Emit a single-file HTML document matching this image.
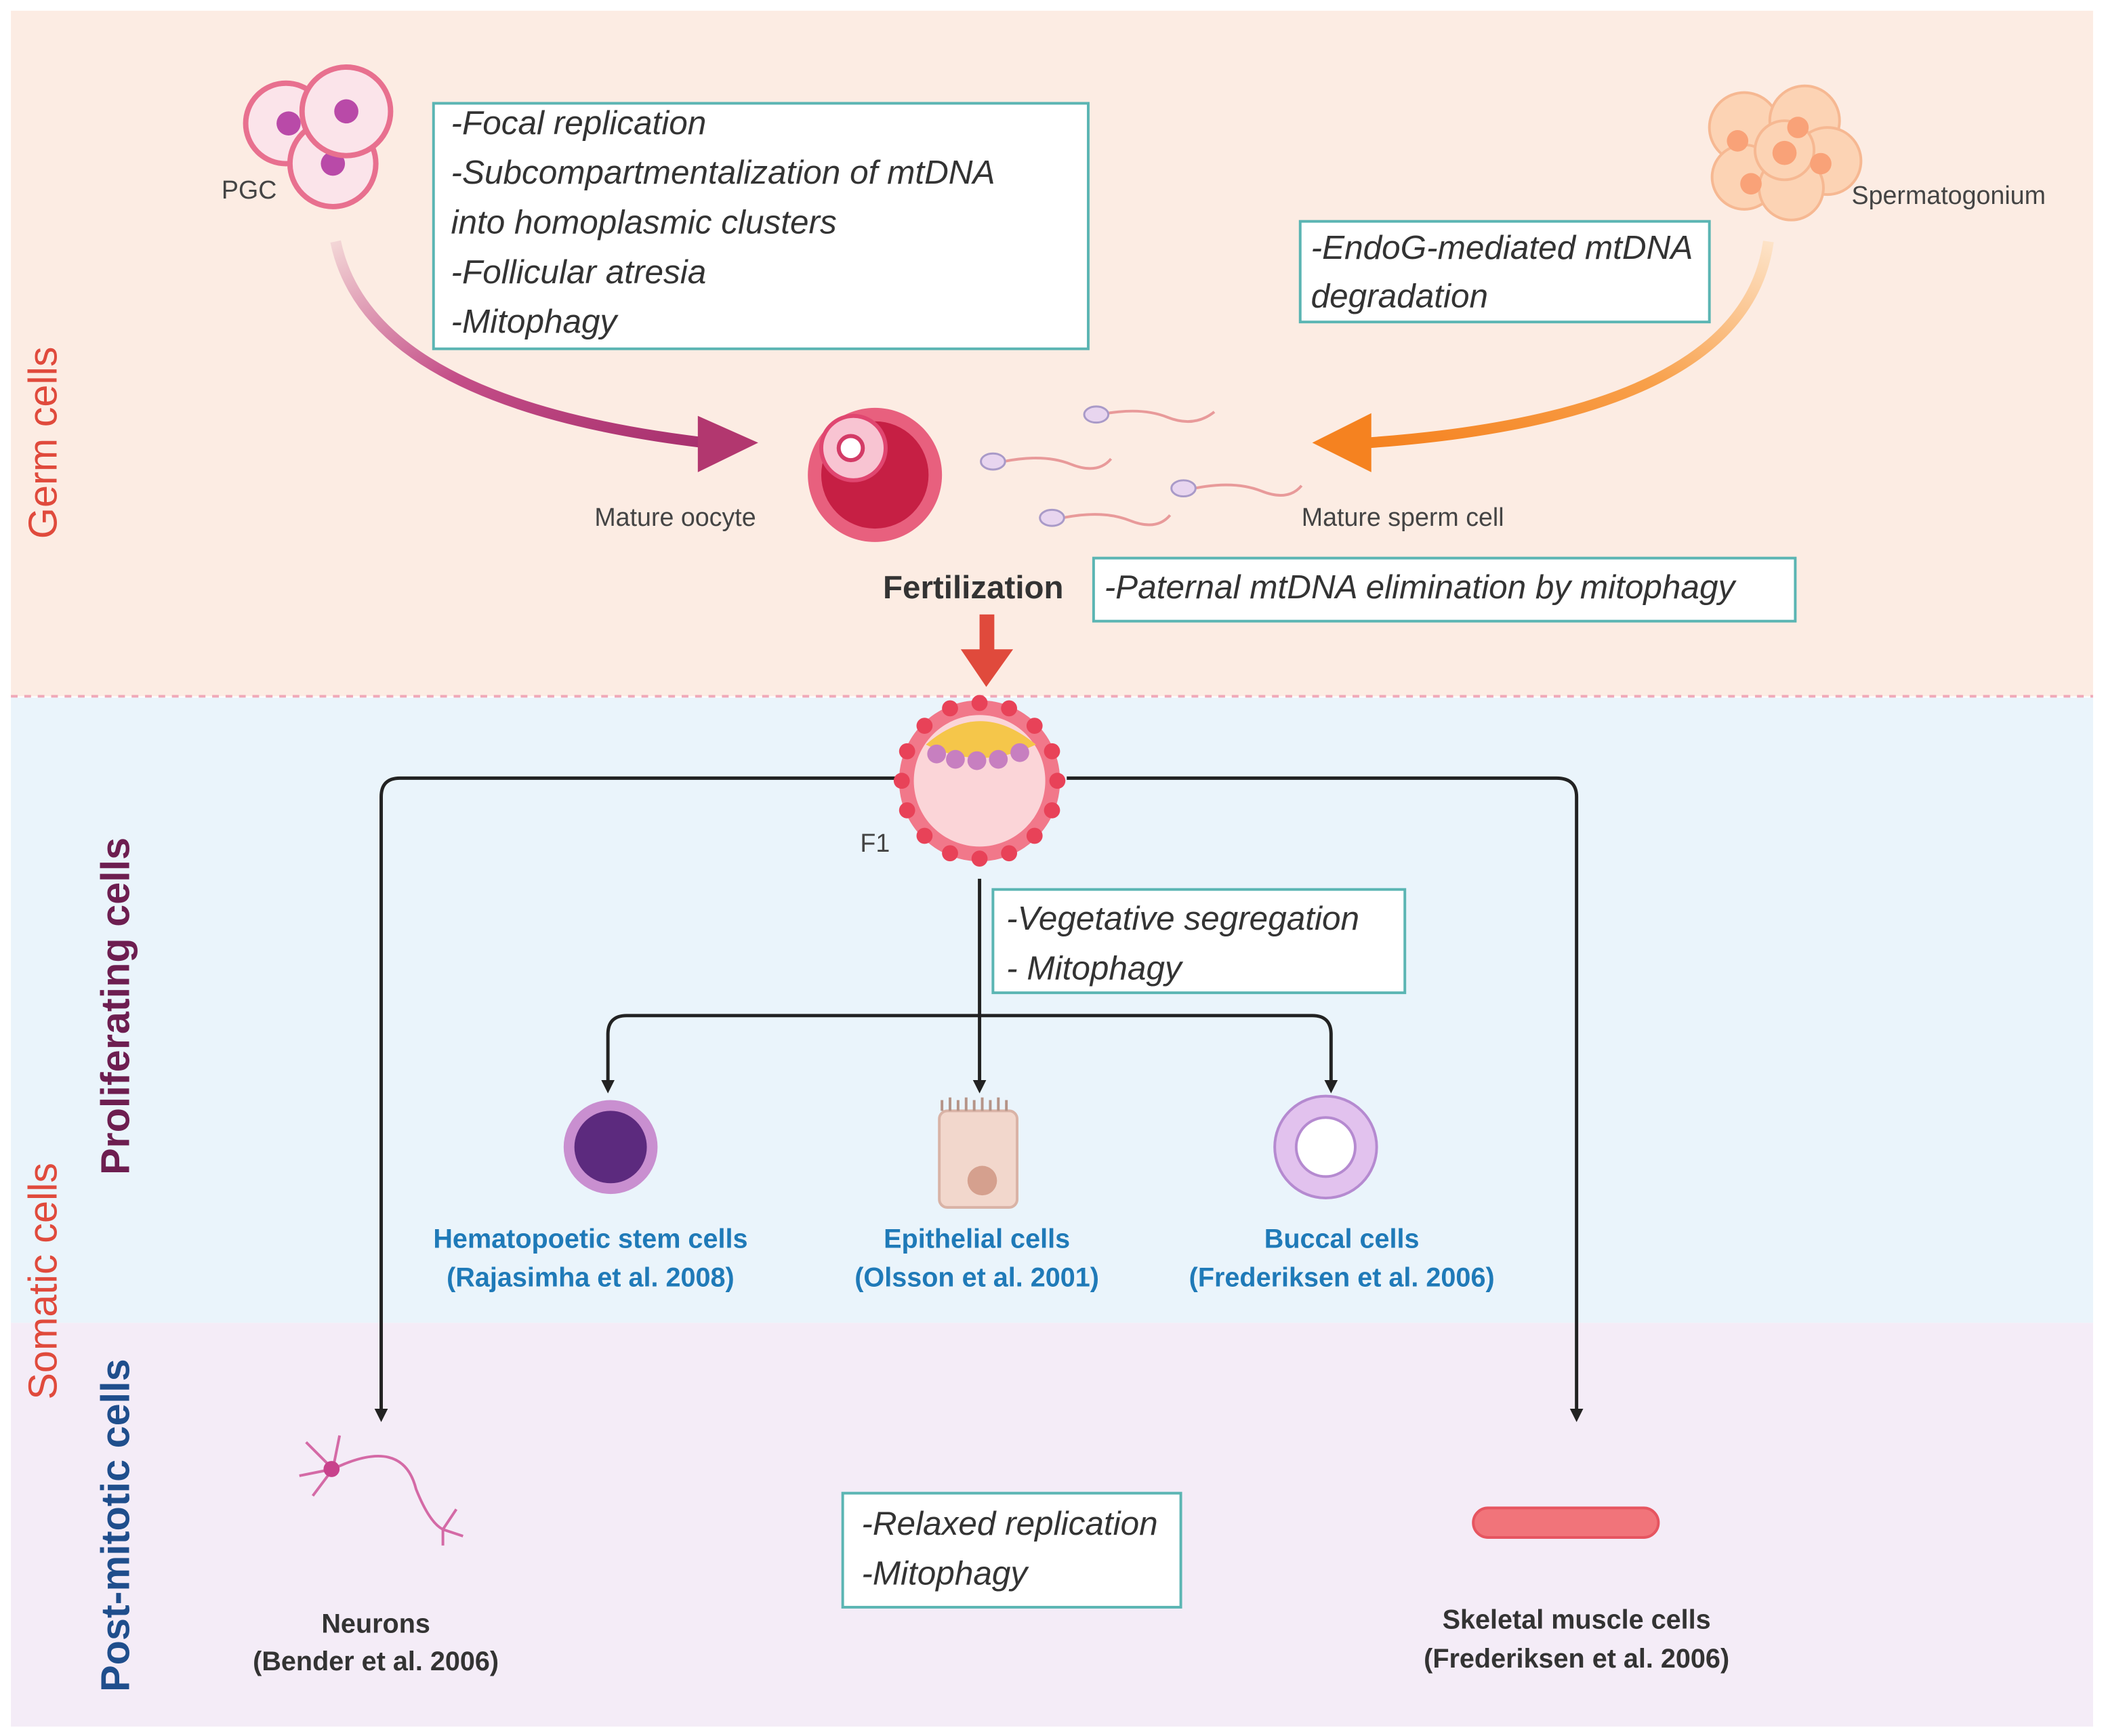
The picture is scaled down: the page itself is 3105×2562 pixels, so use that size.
<!DOCTYPE html>
<html><head><meta charset="utf-8"><style>
html,body{margin:0;padding:0;background:#fff}
svg{display:block}
text{font-family:"Liberation Sans","DejaVu Sans",sans-serif}
.it{font-style:italic;font-size:25px;fill:#333}
.lb{font-size:19px;fill:#444}
.bl{font-size:20px;fill:#1f7ab8;font-weight:bold}
.bk{font-size:20px;fill:#333;font-weight:bold}
</style></head><body>
<svg width="3105" height="2562" viewBox="0 0 1568 1294" xmlns="http://www.w3.org/2000/svg">
<defs>
<linearGradient id="gp" x1="0" y1="0" x2="1" y2="1"><stop offset="0" stop-color="#f3d6d6"/><stop offset="0.5" stop-color="#c44e88"/><stop offset="1" stop-color="#a8306e"/></linearGradient>
<linearGradient id="go" x1="1" y1="0" x2="0" y2="1"><stop offset="0" stop-color="#fde3c8"/><stop offset="0.5" stop-color="#f8a04a"/><stop offset="1" stop-color="#f58220"/></linearGradient>
<marker id="ah" markerWidth="10" markerHeight="10" refX="5" refY="5" orient="auto" markerUnits="userSpaceOnUse"><path d="M0,0 L10,5 L0,10 z" fill="#222"/></marker>
</defs>
<rect x="0" y="0" width="1568" height="1294" fill="#fff"/>
<rect x="8" y="8" width="1552" height="511" fill="#fcece3"/>
<rect x="8" y="520" width="1552" height="466" fill="#eaf4fb"/>
<rect x="8" y="986" width="1552" height="301" fill="#f4ecf7"/>
<line x1="8" y1="519" x2="1560" y2="519" stroke="#f0a8b8" stroke-width="2" stroke-dasharray="5,5"/>

<text transform="translate(42,330) rotate(-90)" text-anchor="middle" font-size="30" fill="#e04a3c">Germ cells</text>
<text transform="translate(96,750) rotate(-90)" text-anchor="middle" font-size="30" fill="#6d1e50" font-weight="bold">Proliferating cells</text>
<text transform="translate(42,955) rotate(-90)" text-anchor="middle" font-size="30" fill="#e04a3c">Somatic  cells</text>
<text transform="translate(96,1137) rotate(-90)" text-anchor="middle" font-size="30" fill="#1f4e8c" font-weight="bold">Post-mitotic cells</text>

<!-- PGC -->
<circle cx="213" cy="92" r="30" fill="#fbe4ea" stroke="#e8708f" stroke-width="4"/><circle cx="215" cy="92" r="9" fill="#b94aa8"/>
<circle cx="248" cy="122" r="32" fill="#fbe4ea" stroke="#e8708f" stroke-width="4"/><circle cx="248" cy="122" r="9" fill="#b94aa8"/>
<circle cx="258" cy="83" r="33" fill="#fbe4ea" stroke="#e8708f" stroke-width="4"/><circle cx="258" cy="83" r="9" fill="#b94aa8"/>
<text x="165" y="148" class="lb">PGC</text>
<!-- Spermatogonium -->
<g fill="#fcd3b4" stroke="#f6b892" stroke-width="2">
<circle cx="1300" cy="95" r="26"/><circle cx="1345" cy="90" r="26"/><circle cx="1362" cy="120" r="25"/><circle cx="1300" cy="132" r="24"/><circle cx="1335" cy="140" r="24"/><circle cx="1330" cy="112" r="22"/></g>
<g fill="#f9a278"><circle cx="1295" cy="105" r="8"/><circle cx="1340" cy="95" r="8"/><circle cx="1357" cy="122" r="8"/><circle cx="1305" cy="137" r="8"/><circle cx="1330" cy="114" r="9"/></g>
<text x="1380" y="152" class="lb">Spermatogonium</text>

<!-- curved arrows -->
<path d="M250,180 Q275,300 525,330" fill="none" stroke="url(#gp)" stroke-width="8"/>
<path d="M520,310 L565,330 L520,352 z" fill="#b2376f"/>
<path d="M1318,180 Q1300,310 1020,330" fill="none" stroke="url(#go)" stroke-width="8"/>
<path d="M1022,308 L978,330 L1022,352 z" fill="#f58220"/>

<!-- oocyte -->
<circle cx="652" cy="354" r="50" fill="#e8607e"/>
<circle cx="652" cy="354" r="40" fill="#c61f44"/>
<circle cx="636" cy="334" r="24" fill="#f8c4d2" stroke="#e04670" stroke-width="3"/>
<circle cx="634" cy="334" r="9" fill="#fff" stroke="#d33b66" stroke-width="3"/>
<text x="443" y="392" class="lb">Mature oocyte</text>
<!-- sperm -->
<g stroke="#e89a9a" stroke-width="2" fill="none">
<path d="M820,309 q30,-6 50,2 t35,-4"/><path d="M748,344 q30,-6 50,2 t30,-4"/><path d="M890,364 q30,-6 50,2 t30,-4"/><path d="M792,386 q30,-6 50,2 t30,-4"/></g>
<g fill="#e8d5ef" stroke="#a99ac8" stroke-width="1.5">
<ellipse cx="817" cy="309" rx="9" ry="6"/><ellipse cx="740" cy="344" rx="9" ry="6"/><ellipse cx="882" cy="364" rx="9" ry="6"/><ellipse cx="784" cy="386" rx="9" ry="6"/></g>
<text x="970" y="392" class="lb">Mature sperm cell</text>

<text x="658" y="446" font-size="24" font-weight="bold" fill="#333">Fertilization</text>
<rect x="730" y="458" width="11" height="30" fill="#e04a3c"/>
<path d="M716,484 L755,484 L735,512 z" fill="#e04a3c"/>

<!-- boxes -->
<g fill="#fff" stroke="#5bb5b3" stroke-width="2">
<rect x="323" y="77" width="488" height="183"/>
<rect x="969" y="165" width="305" height="75"/>
<rect x="815" y="416" width="523" height="47"/>
<rect x="740" y="663" width="307" height="77"/>
<rect x="628" y="1113" width="252" height="85"/>
</g>
<text class="it"><tspan x="336" y="100">-Focal replication</tspan><tspan x="336" y="137">-Subcompartmentalization of mtDNA</tspan><tspan x="336" y="174">into  homoplasmic clusters</tspan><tspan x="336" y="211">-Follicular atresia</tspan><tspan x="336" y="248">-Mitophagy</tspan></text>
<text class="it"><tspan x="977" y="193">-EndoG-mediated mtDNA</tspan><tspan x="977" y="229">degradation</tspan></text>
<text class="it" x="823" y="446">-Paternal mtDNA elimination by mitophagy</text>
<text class="it"><tspan x="750" y="693">-Vegetative segregation</tspan><tspan x="750" y="730">- Mitophagy</tspan></text>
<text class="it"><tspan x="642" y="1144">-Relaxed replication</tspan><tspan x="642" y="1181">-Mitophagy</tspan></text>

<!-- connectors -->
<g fill="none" stroke="#222" stroke-width="2.5">
<path d="M668,580 L298,580 Q284,580 284,594 L284,1055" marker-end="url(#ah)"/>
<path d="M795,580 L1160,580 Q1175,580 1175,594 L1175,1055" marker-end="url(#ah)"/>
<path d="M730,655 L730,810" marker-end="url(#ah)"/>
<path d="M730,757 L467,757 Q453,757 453,771 L453,810" marker-end="url(#ah)"/>
<path d="M730,757 L978,757 Q992,757 992,771 L992,810" marker-end="url(#ah)"/>
</g>

<!-- F1 blastocyst -->
<circle cx="730" cy="582" r="60" fill="#f1788a"/>
<circle cx="730" cy="582" r="49" fill="#fbd5d8"/>
<g fill="#e84258">
<circle cx="730" cy="524" r="6"/><circle cx="730" cy="640" r="6"/><circle cx="672" cy="582" r="6"/><circle cx="788" cy="582" r="6"/>
<circle cx="771" cy="541" r="6"/><circle cx="689" cy="541" r="6"/><circle cx="771" cy="623" r="6"/><circle cx="689" cy="623" r="6"/>
<circle cx="752" cy="528" r="6"/><circle cx="708" cy="528" r="6"/><circle cx="752" cy="636" r="6"/><circle cx="708" cy="636" r="6"/>
<circle cx="784" cy="560" r="6"/><circle cx="676" cy="560" r="6"/><circle cx="784" cy="604" r="6"/><circle cx="676" cy="604" r="6"/></g>
<path d="M690,555 Q730,520 772,555 Q730,575 690,555z" fill="#f5c64a"/>
<g fill="#c77fc0"><circle cx="698" cy="562" r="7"/><circle cx="712" cy="566" r="7"/><circle cx="728" cy="567" r="7"/><circle cx="744" cy="566" r="7"/><circle cx="760" cy="561" r="7"/></g>
<text x="641" y="635" class="lb">F1</text>

<!-- proliferating cells -->
<circle cx="455" cy="855" r="35" fill="#c98fd0"/><circle cx="455" cy="855" r="27" fill="#5c2a7e"/>
<rect x="700" y="828" width="58" height="72" rx="6" fill="#f2d7cc" stroke="#d9b3a6" stroke-width="2"/>
<path d="M702,828 l0,-8 m6,8 l0,-10 m6,10 l0,-8 m6,8 l0,-10 m6,10 l0,-8 m6,8 l0,-10 m6,10 l0,-8 m6,8 l0,-10 m6,10 l0,-8" stroke="#b59488" stroke-width="2"/>
<circle cx="732" cy="880" r="11" fill="#d5a08e"/>
<circle cx="988" cy="855" r="38" fill="#e2c2ee" stroke="#b58ad0" stroke-width="2"/>
<circle cx="988" cy="855" r="22" fill="#fff" stroke="#b58ad0" stroke-width="2"/>
<text text-anchor="middle" class="bl"><tspan x="440" y="930">Hematopoetic stem cells</tspan><tspan x="440" y="959">(Rajasimha et al. 2008)</tspan></text>
<text text-anchor="middle" class="bl"><tspan x="728" y="930">Epithelial cells</tspan><tspan x="728" y="959">(Olsson et al. 2001)</tspan></text>
<text text-anchor="middle" class="bl"><tspan x="1000" y="930">Buccal cells</tspan><tspan x="1000" y="959">(Frederiksen et al. 2006)</tspan></text>

<!-- neuron -->
<g stroke="#d46aa6" stroke-width="2" fill="none">
<path d="M248,1095 Q300,1070 310,1110 Q320,1135 330,1140"/>
<path d="M248,1095 l-20,-20 M248,1095 l-25,5 M248,1095 l-15,20 M248,1095 l5,-25 M330,1140 l10,-15 M330,1140 l15,5 M330,1140 l0,12"/></g>
<circle cx="247" cy="1095" r="6" fill="#c8428c"/>
<!-- muscle -->
<rect x="1098" y="1124" width="138" height="22" rx="11" fill="#f1747a" stroke="#e65560" stroke-width="2"/>
<text text-anchor="middle" class="bk"><tspan x="280" y="1217">Neurons</tspan><tspan x="280" y="1245">(Bender et al. 2006)</tspan></text>
<text text-anchor="middle" class="bk"><tspan x="1175" y="1214">Skeletal muscle cells</tspan><tspan x="1175" y="1243">(Frederiksen et al. 2006)</tspan></text>
</svg>
</body></html>
